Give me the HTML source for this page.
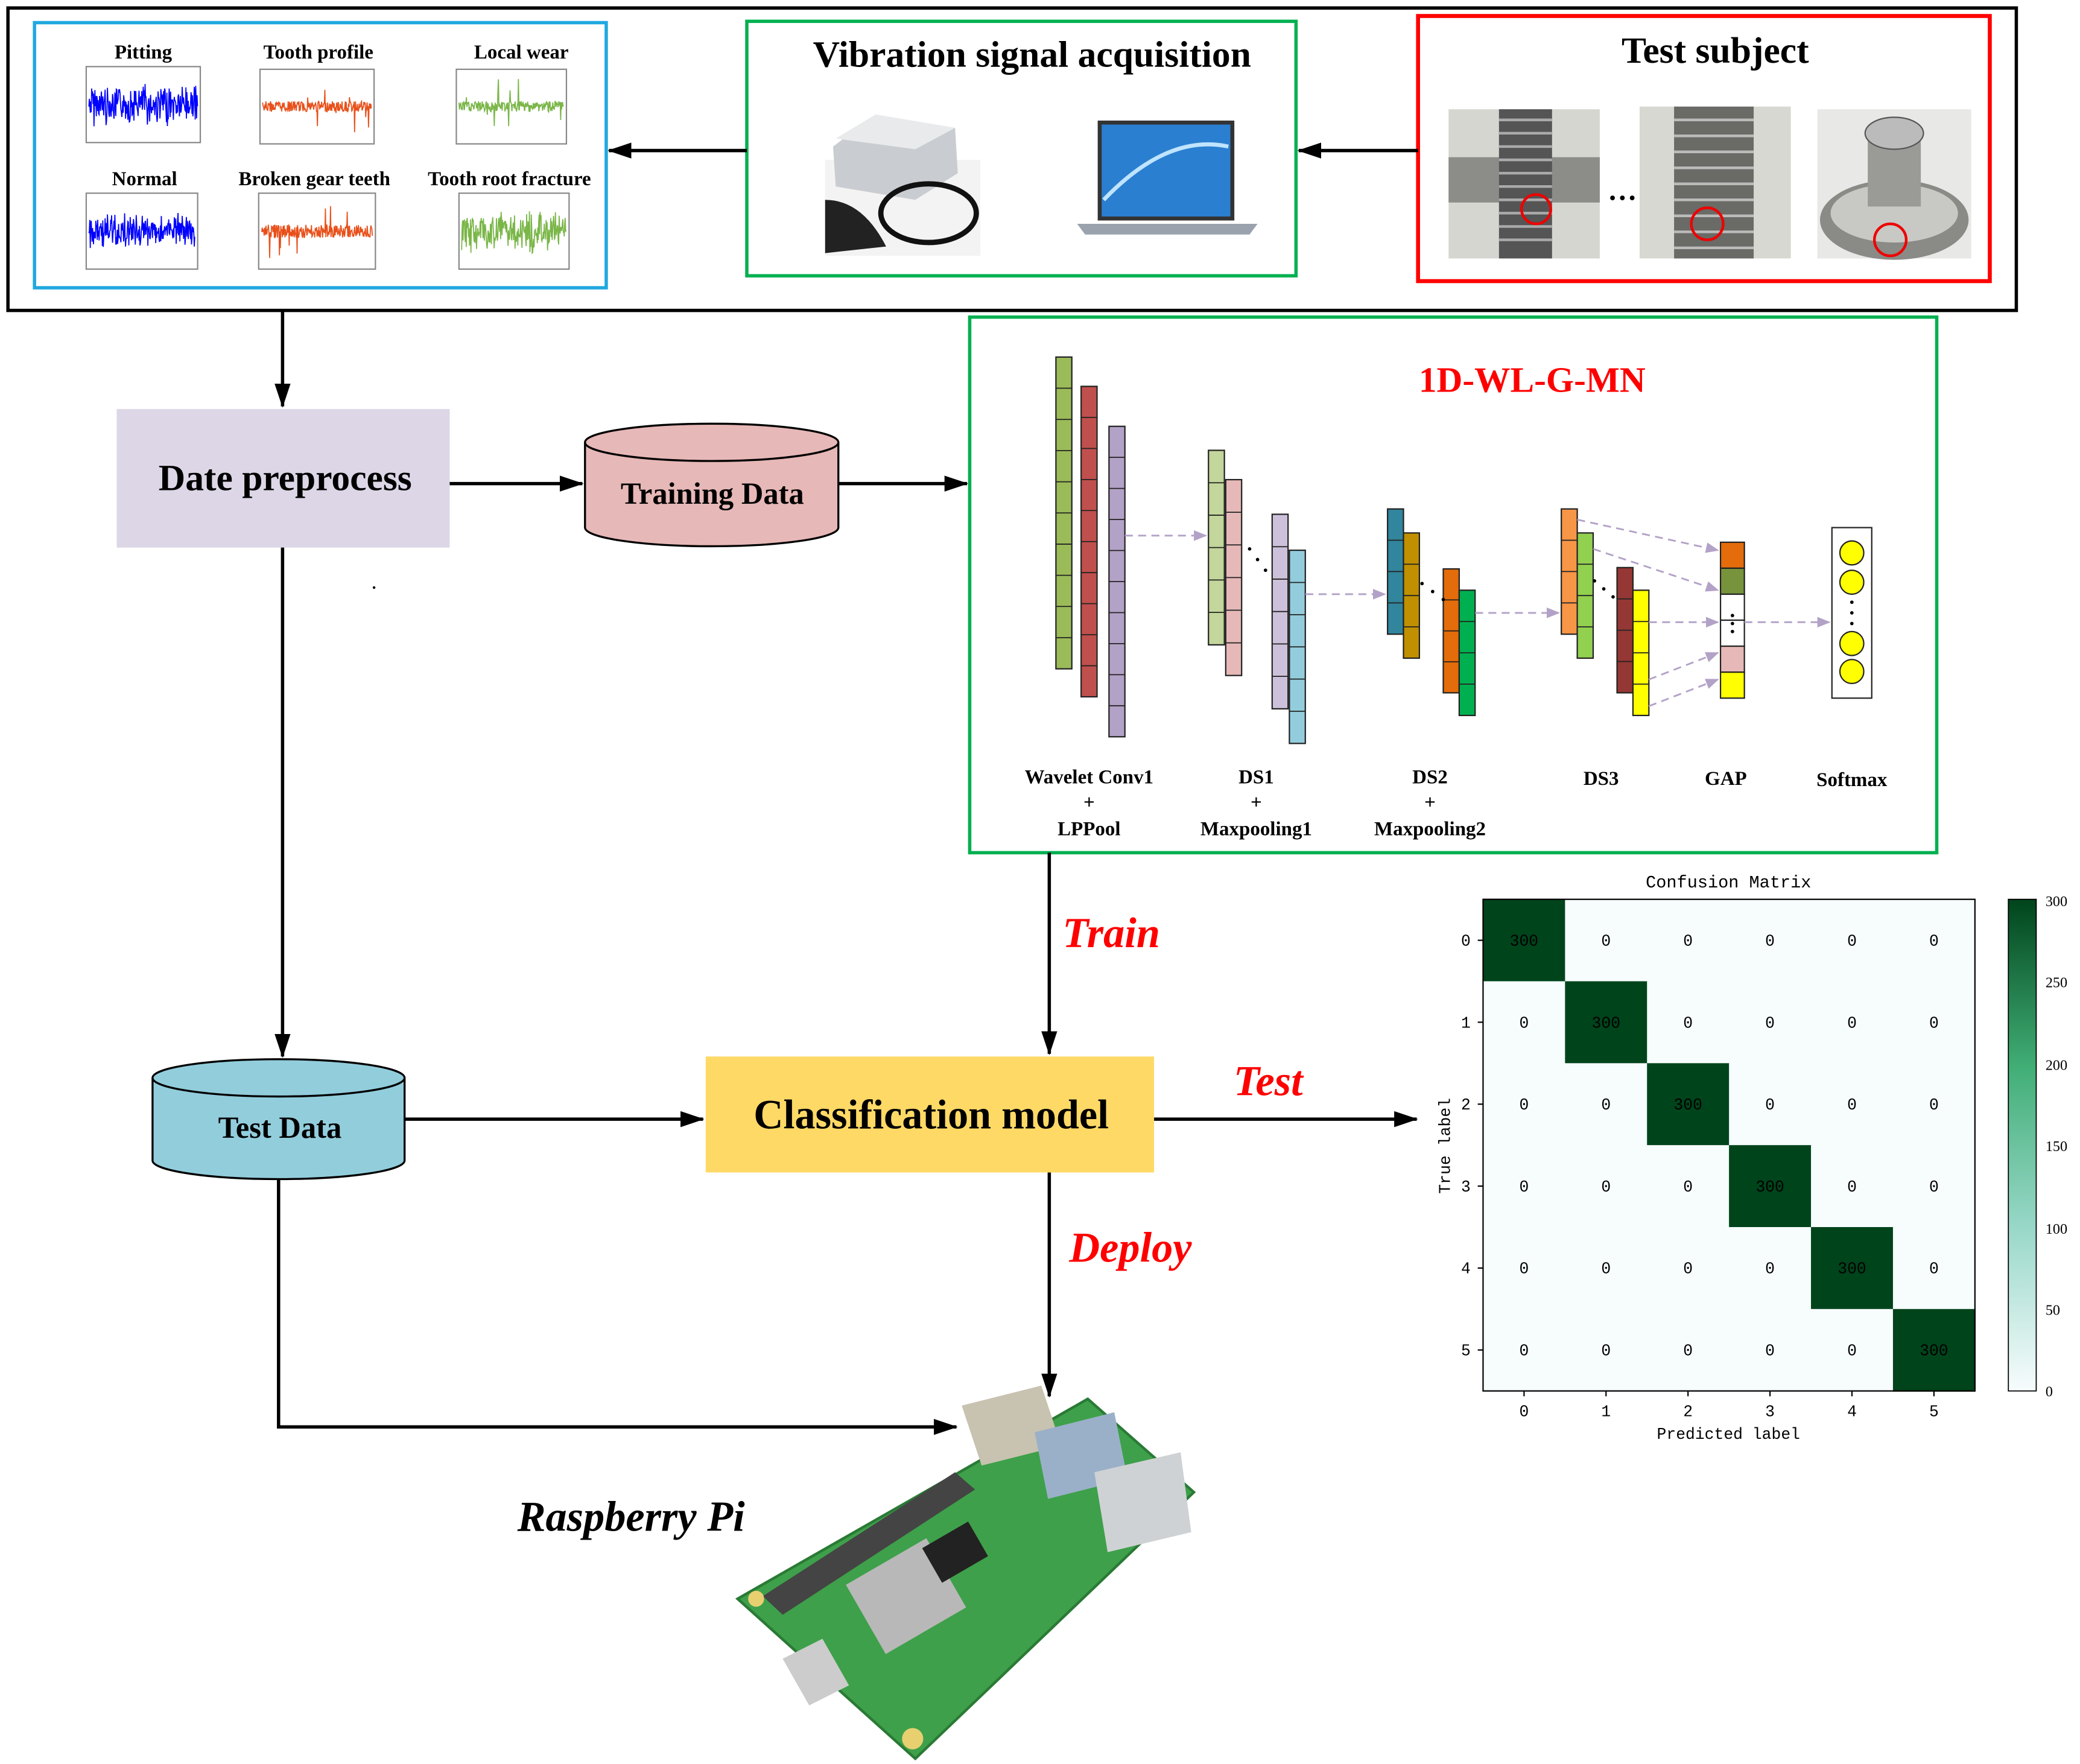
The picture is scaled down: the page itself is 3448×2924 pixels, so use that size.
<!DOCTYPE html>
<html><head><meta charset="utf-8"><style>
html,body{margin:0;padding:0;background:#fff}
svg{display:block}
text{font-family:"Liberation Serif",serif}
.m{font-family:"Liberation Mono",monospace}
</style></head><body>
<svg id="s" width="3448" height="2924" viewBox="0 0 1568 1324" preserveAspectRatio="none" xmlns="http://www.w3.org/2000/svg">
<defs>
<marker id="ar" markerWidth="10" markerHeight="10" refX="9" refY="5" orient="auto" markerUnits="userSpaceOnUse"><path d="M0,0 L10,5 L0,10 Z" fill="#000"/></marker>
<marker id="ar2" markerWidth="18" markerHeight="12" refX="17" refY="6" orient="auto" markerUnits="userSpaceOnUse"><path d="M0,0 L18,6 L0,12 Z" fill="#000"/></marker>
<marker id="ap" markerWidth="10" markerHeight="8" refX="9" refY="4" orient="auto" markerUnits="userSpaceOnUse"><path d="M0,0 L10,4 L0,8 Z" fill="#b3a2c7"/></marker>
</defs>
<rect width="1568" height="1324" fill="#fff"/>
<rect x="6" y="6" width="1514" height="227" fill="none" stroke="#000" stroke-width="2.5"/>
<rect x="26" y="17" width="431" height="199" fill="none" stroke="#1fa8e0" stroke-width="2.5"/>
<rect x="563" y="16" width="414" height="191" fill="none" stroke="#00b050" stroke-width="2.5"/>
<rect x="1069" y="12" width="431" height="199" fill="none" stroke="#ff0000" stroke-width="3"/>
<g font-weight="bold" font-size="15" text-anchor="middle">
<text x="108" y="44">Pitting</text><text x="240" y="44">Tooth profile</text><text x="393" y="44">Local wear</text>
<text x="109" y="139">Normal</text><text x="237" y="139">Broken gear teeth</text><text x="384" y="139">Tooth root fracture</text>
</g>
<g id="sig"></g>
<text x="778" y="50" font-size="28" font-weight="bold" text-anchor="middle">Vibration signal acquisition</text>
<text x="1293" y="47" font-size="28" font-weight="bold" text-anchor="middle">Test subject</text>
<rect x="622" y="120" width="117" height="72" fill="#f3f3f3"/>
<path d="M628 110 L660 86 L720 96 L722 130 L690 150 L630 140 Z" fill="#c9ccd0"/>
<path d="M660 86 L720 96 L690 112 L630 104 Z" fill="#e8eaec"/>
<path d="M622 150 Q650 150 668 185 L622 190 Z" fill="#222"/>
<ellipse cx="700" cy="160" rx="36" ry="22" fill="none" stroke="#111" stroke-width="4"/>
<rect x="829" y="92" width="100" height="72" fill="#2a7fd0" stroke="#333" stroke-width="3"/>
<path d="M832 150 Q880 100 926 110" stroke="#bfe4ff" stroke-width="3" fill="none"/>
<path d="M812 168 L948 168 L942 176 L818 176 Z" fill="#9aa3ad"/>
<rect x="1092" y="82" width="114" height="112" fill="#d6d6d0"/>
<rect x="1092" y="118" width="114" height="34" fill="#8c8c88"/>
<rect x="1130" y="82" width="40" height="112" fill="#555" />
<g stroke="#aaa" stroke-width="2"><line x1="1130" y1="90" x2="1170" y2="90"/><line x1="1130" y1="100" x2="1170" y2="100"/><line x1="1130" y1="110" x2="1170" y2="110"/><line x1="1130" y1="120" x2="1170" y2="120"/><line x1="1130" y1="130" x2="1170" y2="130"/><line x1="1130" y1="140" x2="1170" y2="140"/><line x1="1130" y1="150" x2="1170" y2="150"/><line x1="1130" y1="160" x2="1170" y2="160"/><line x1="1130" y1="170" x2="1170" y2="170"/><line x1="1130" y1="180" x2="1170" y2="180"/></g>
<circle cx="1158" cy="157" r="11" fill="none" stroke="#e00" stroke-width="2"/>
<text x="1223" y="150" font-size="22" font-weight="bold" text-anchor="middle">…</text>
<rect x="1236" y="80" width="114" height="114" fill="#d8d8d2"/>
<rect x="1262" y="80" width="60" height="114" fill="#6a6a66"/>
<g stroke="#bbb" stroke-width="2"><line x1="1262" y1="90" x2="1322" y2="90"/><line x1="1262" y1="102" x2="1322" y2="102"/><line x1="1262" y1="114" x2="1322" y2="114"/><line x1="1262" y1="126" x2="1322" y2="126"/><line x1="1262" y1="138" x2="1322" y2="138"/><line x1="1262" y1="150" x2="1322" y2="150"/><line x1="1262" y1="162" x2="1322" y2="162"/><line x1="1262" y1="174" x2="1322" y2="174"/><line x1="1262" y1="186" x2="1322" y2="186"/></g>
<circle cx="1287" cy="168" r="12" fill="none" stroke="#e00" stroke-width="2"/>
<rect x="1370" y="82" width="116" height="112" fill="#e8e8e6"/>
<ellipse cx="1428" cy="165" rx="56" ry="30" fill="#8a8a86"/>
<ellipse cx="1428" cy="160" rx="48" ry="22" fill="#c8c8c4"/>
<rect x="1408" y="95" width="40" height="60" fill="#9a9a96"/>
<ellipse cx="1428" cy="100" rx="22" ry="12" fill="#bbb" stroke="#555"/>
<circle cx="1425" cy="180" r="12" fill="none" stroke="#e00" stroke-width="2"/>
<line x1="563" y1="113" x2="459" y2="113" stroke="#000" stroke-width="2.5" marker-end="url(#ar2)"/>
<line x1="1069" y1="113" x2="979" y2="113" stroke="#000" stroke-width="2.5" marker-end="url(#ar2)"/>
<line x1="213" y1="233" x2="213" y2="305" stroke="#000" stroke-width="2.5" marker-end="url(#ar2)"/>
<rect x="88" y="307" width="251" height="104" fill="#dcd6e6"/>
<text x="215" y="368" font-size="28" font-weight="bold" text-anchor="middle">Date preprocess</text>
<line x1="339" y1="363" x2="439" y2="363" stroke="#000" stroke-width="2.5" marker-end="url(#ar2)"/>
<path d="M441 332 L441 396 A95.5 14 0 0 0 632 396 L632 332" fill="#e6b8b7" stroke="#000" stroke-width="1.5"/>
<ellipse cx="536.5" cy="332" rx="95.5" ry="14" fill="#e6b8b7" stroke="#000" stroke-width="1.5"/>
<text x="537" y="378" font-size="23" font-weight="bold" text-anchor="middle">Training Data</text>
<line x1="632" y1="363" x2="729" y2="363" stroke="#000" stroke-width="2.5" marker-end="url(#ar2)"/>
<circle cx="282" cy="441" r="1" fill="#000"/>
<rect x="731" y="238" width="729" height="402" fill="none" stroke="#00b050" stroke-width="2.5"/>
<text x="1155" y="294" font-size="27" font-weight="bold" fill="#ff0000" text-anchor="middle">1D-WL-G-MN</text>
<g id="net"></g>
<g font-weight="bold" font-size="15" text-anchor="middle">
<text x="821" y="588">Wavelet Conv1</text><text x="821" y="607">+</text><text x="821" y="627">LPPool</text>
<text x="947" y="588">DS1</text><text x="947" y="607">+</text><text x="947" y="627">Maxpooling1</text>
<text x="1078" y="588">DS2</text><text x="1078" y="607">+</text><text x="1078" y="627">Maxpooling2</text>
<text x="1207" y="589">DS3</text><text x="1301" y="589">GAP</text><text x="1396" y="590">Softmax</text>
</g>
<line x1="213" y1="411" x2="213" y2="793" stroke="#000" stroke-width="2.5" marker-end="url(#ar2)"/>
<path d="M115 809 L115 871 A95 14 0 0 0 305 871 L305 809" fill="#92cddc" stroke="#000" stroke-width="1.5"/>
<ellipse cx="210" cy="809" rx="95" ry="14" fill="#92cddc" stroke="#000" stroke-width="1.5"/>
<text x="211" y="854" font-size="23" font-weight="bold" text-anchor="middle">Test Data</text>
<line x1="305" y1="840" x2="530" y2="840" stroke="#000" stroke-width="2.5" marker-end="url(#ar2)"/>
<rect x="532" y="793" width="338" height="87" fill="#ffd966"/>
<text x="702" y="847" font-size="31" font-weight="bold" text-anchor="middle">Classification model</text>
<line x1="791" y1="640" x2="791" y2="791" stroke="#000" stroke-width="2.5" marker-end="url(#ar2)"/>
<text x="801" y="711" font-size="32" font-weight="bold" font-style="italic" fill="#ff0000">Train</text>
<line x1="870" y1="840" x2="1068" y2="840" stroke="#000" stroke-width="2.5" marker-end="url(#ar2)"/>
<text x="930" y="822" font-size="32" font-weight="bold" font-style="italic" fill="#ff0000">Test</text>
<line x1="791" y1="880" x2="791" y2="1048" stroke="#000" stroke-width="2.5" marker-end="url(#ar2)"/>
<text x="806" y="947" font-size="32" font-weight="bold" font-style="italic" fill="#ff0000">Deploy</text>
<polyline points="210,885 210,1071 721,1071" fill="none" stroke="#000" stroke-width="2.5" marker-end="url(#ar2)"/>
<text x="390" y="1149" font-size="32" font-weight="bold" font-style="italic">Raspberry Pi</text>
<path d="M556 1200 L820 1050 L900 1120 L690 1320 Z" fill="#3ea04a" stroke="#2a7a35" stroke-width="2"/>
<path d="M575 1198 L720 1105 L735 1118 L590 1212 Z" fill="#444"/>
<rect x="648" y="1168" width="70" height="60" fill="#b8b8b8" transform="rotate(-30 683 1198)"/>
<rect x="700" y="1150" width="40" height="30" fill="#222" transform="rotate(-30 720 1165)"/>
<path d="M725 1055 L785 1040 L800 1085 L740 1100 Z" fill="#c8c2b0"/>
<path d="M780 1075 L840 1060 L850 1110 L790 1125 Z" fill="#9ab0c8"/>
<path d="M825 1105 L890 1090 L898 1150 L835 1165 Z" fill="#cfd2d4"/>
<path d="M590 1245 L620 1230 L640 1265 L610 1280 Z" fill="#ccc"/>
<circle cx="688" cy="1305" r="8" fill="#e8d070"/><circle cx="570" cy="1200" r="6" fill="#e8d070"/>
<text x="1303" y="666" class="m" font-size="13" text-anchor="middle">Confusion Matrix</text>
<g id="cm"></g>
<defs><linearGradient id="cb" x1="0" y1="1" x2="0" y2="0"><stop offset="0" stop-color="#f7fcfd"/><stop offset="0.33" stop-color="#99d8c9"/><stop offset="0.66" stop-color="#41ae76"/><stop offset="1" stop-color="#00441b"/></linearGradient></defs>
<rect x="1514" y="675" width="21" height="369" fill="url(#cb)" stroke="#000" stroke-width="0.8"/>
<g class="m" font-size="11">
<text x="1542" y="680">300</text><text x="1542" y="741">250</text><text x="1542" y="803">200</text><text x="1542" y="864">150</text><text x="1542" y="926">100</text><text x="1542" y="987">50</text><text x="1542" y="1048">0</text>
</g>
<text x="1303" y="1080" class="m" font-size="12" text-anchor="middle">Predicted label</text>
<text x="1093" y="860" class="m" font-size="12" text-anchor="middle" transform="rotate(-90 1093 860)">True label</text>
</svg>
<script>
var NS="http://www.w3.org/2000/svg";
function el(t,a,p){var e=document.createElementNS(NS,t);for(var k in a)e.setAttribute(k,a[k]);(p||document.getElementById('s')).appendChild(e);return e;}
var sig=document.getElementById('sig');
var plots=[[65,50,86,57,'#0000ff',0,18],[196,52,86,56,'#e8501a',1,4],[344,52,83,56,'#7ab648',1,4],[65,145,84,57,'#0000ff',0,14],[195,145,88,57,'#e8501a',1,5],[346,145,83,57,'#7ab648',0,18]];
var seed=7;function r(){seed=(seed*9301+49297)%233280;return seed/233280;}
plots.forEach(function(p){
 el('rect',{x:p[0],y:p[1],width:p[2],height:p[3],fill:'#fff',stroke:'#888','stroke-width':1},sig);
 var pts=[],cy=p[1]+p[3]/2;
 for(var i=0;i<=p[2]-4;i+=0.35){var a=(p[5]?(r()<0.04?22:p[6]):p[6]*(0.4+0.6*r()))*(r()*2-1);pts.push((p[0]+2+i)+','+(cy+a));}
 el('polyline',{points:pts.join(' '),fill:'none',stroke:p[4],'stroke-width':0.8},sig);
});
var net=document.getElementById('net');
function col(x,y,w,h,n,c){el('rect',{x:x,y:y,width:w,height:h,fill:c,stroke:'#222','stroke-width':1},net);for(var i=1;i<n;i++)el('line',{x1:x,y1:y+h*i/n,x2:x+w,y2:y+h*i/n,stroke:'#222','stroke-width':0.8},net);}
col(796,268,12,234,10,'#9bbb59');col(815,290,12,233,10,'#c0504d');col(836,320,12,233,10,'#b3a2c7');
col(911,338,12,146,6,'#c3d69b');col(924,360,12,147,6,'#e6b9b8');col(959,386,12,146,6,'#ccc0da');col(972,413,12,145,6,'#93cddd');
col(1046,382,12,94,4,'#31859c');col(1058,400,12,94,4,'#c09000');col(1088,427,12,93,4,'#e46c0a');col(1100,443,12,94,4,'#00b050');
col(1177,382,12,94,4,'#f79646');col(1189,400,12,94,4,'#92d050');col(1219,426,12,94,4,'#953734');col(1231,443,12,94,4,'#ffff00');
var gc=['#e46c0a','#77933c','#fff','#fff','#e6b9b8','#ffff00'];gc.forEach(function(c,i){el('rect',{x:1297,y:407+i*19.5,width:18,height:19.5,fill:c,stroke:'#222','stroke-width':1},net);});
el('rect',{x:1381,y:396,width:30,height:128,fill:'#fff',stroke:'#222','stroke-width':1},net);
[415,437,483,504].forEach(function(y){el('circle',{cx:1396,cy:y,r:9,fill:'#ffff00',stroke:'#222'},net);});
[[942,412],[948,420],[954,428],[1072,438],[1080,444],[1088,450],[1202,436],[1209,442],[1216,448],[1306,462],[1306,468],[1306,474],[1396,452],[1396,460],[1396,468]].forEach(function(d){el('circle',{cx:d[0],cy:d[1],r:1.3,fill:'#000'},net);});
function da(x1,y1,x2,y2){el('line',{x1:x1,y1:y1,x2:x2,y2:y2,stroke:'#b3a2c7','stroke-width':1.3,'stroke-dasharray':'6,4','marker-end':'url(#ap)'},net);}
da(848,402,909,402);da(984,446,1044,446);da(1112,460,1175,460);
da(1189,390,1295,413);da(1201,412,1295,443);da(1243,467,1295,467);da(1243,510,1295,490);da(1243,530,1295,510);da(1315,467,1379,467);
var cm=document.getElementById('cm'),x0=1118,y0=675,cw=61.8,ch=61.5;
for(var i=0;i<6;i++)for(var j=0;j<6;j++){var d=i==j;el('rect',{x:x0+j*cw,y:y0+i*ch,width:cw+0.5,height:ch+0.5,fill:d?'#00441b':'#f7fcfd'},cm);
 var t=el('text',{x:x0+j*cw+cw/2,y:y0+i*ch+ch/2+4,'font-size':12,'text-anchor':'middle','class':'m',fill:'#000'},cm);t.textContent=d?'300':'0';}
el('rect',{x:x0,y:y0,width:6*cw,height:6*ch,fill:'none',stroke:'#000','stroke-width':1},cm);
for(var k=0;k<6;k++){var t=el('text',{x:1105,y:y0+k*ch+ch/2+4,'font-size':12,'text-anchor':'middle','class':'m'},cm);t.textContent=k;
 el('line',{x1:x0-4,y1:y0+k*ch+ch/2,x2:x0,y2:y0+k*ch+ch/2,stroke:'#000'},cm);
 var u=el('text',{x:x0+k*cw+cw/2,y:1063,'font-size':12,'text-anchor':'middle','class':'m'},cm);u.textContent=k;
 el('line',{x1:x0+k*cw+cw/2,y1:1044,x2:x0+k*cw+cw/2,y2:1048,stroke:'#000'},cm);}
</script>
</body></html>
